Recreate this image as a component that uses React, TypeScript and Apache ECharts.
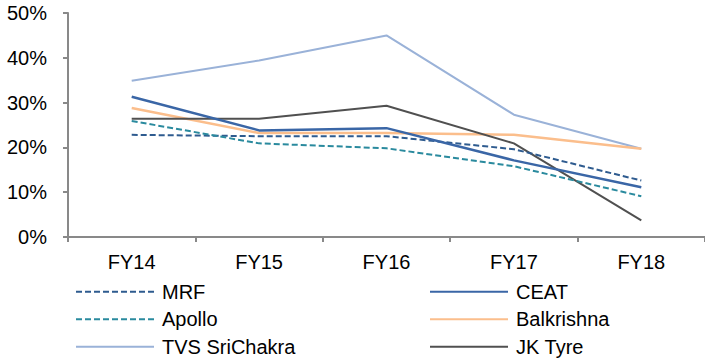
import React, { useEffect, useRef } from "react";
import * as echarts from "echarts";

const categories = ["FY14", "FY15", "FY16", "FY17", "FY18"];
const mrf = [22.8, 22.5, 22.5, 19.6, 12.6];
const ceat = [31.3, 23.8, 24.3, 17.1, 11.1];
const apollo = [25.9, 20.9, 19.8, 15.8, 9.1];
const balkrishna = [28.8, 23.2, 23.2, 22.8, 19.7];
const tvs = [34.9, 39.4, 45.0, 27.3, 19.7];
const jkTyre = [26.4, 26.4, 29.3, 20.9, 3.7];
const yTicks = [0, 10, 20, 30, 40, 50];

const FONT = "'Liberation Sans', Arial, sans-serif";

export default function App() {
  const ref = useRef<HTMLDivElement>(null);
  useEffect(() => {
    if (!ref.current) return;
    const chart = echarts.init(ref.current, undefined, { renderer: "svg" });
    const mk = (name: string, data: number[], color: string, dashed: boolean, width = 2) => ({
      name,
      type: "line",
      data,
      symbol: "none",
      showSymbol: false,
      lineStyle: { color, width, type: dashed ? [6, 3] : "solid" },
      itemStyle: { color },
    });
    const legendCommon = {
      orient: "vertical",
      top: 281.7,
      height: 80,
      padding: 0,
      itemWidth: 78,
      itemHeight: 14,
      itemGap: 7.5,
      itemStyle: { opacity: 0 },
      textStyle: { fontFamily: FONT, fontSize: 20, color: "#000", lineHeight: 20, padding: [0, 0, 0, 3] },
    };
    chart.setOption({
      animation: false,
      grid: { left: 68, top: 13, right: -4, bottom: 124, containLabel: false },
      legend: [
        { ...legendCommon, left: 75, data: ["MRF", "Apollo", "TVS SriChakra"] },
        { ...legendCommon, left: 429, data: ["CEAT", "Balkrishna", "JK Tyre"] },
      ],
      xAxis: {
        type: "category",
        data: categories,
        boundaryGap: true,
        axisLine: { lineStyle: { color: "#898989", width: 2 } },
        axisTick: { show: true, length: 5, lineStyle: { color: "#898989", width: 2 } },
        axisLabel: { fontFamily: FONT, fontSize: 20, color: "#000", margin: 15 },
      },
      yAxis: {
        type: "value",
        min: yTicks[0],
        max: yTicks[yTicks.length - 1],
        interval: 10,
        splitLine: { show: false },
        axisLine: { show: true, lineStyle: { color: "#898989", width: 2 } },
        axisTick: { show: true, length: 5, lineStyle: { color: "#898989", width: 2 } },
        axisLabel: { fontFamily: FONT, fontSize: 20, color: "#000", margin: 21, formatter: "{value}%" },
      },
      series: [
        mk("TVS SriChakra", tvs, "#9AB2D8", false, 2),
        mk("Balkrishna", balkrishna, "#FBBE8C", false, 2.5),
        mk("JK Tyre", jkTyre, "#505050", false, 2),
        mk("MRF", mrf, "#2E5B8F", true, 2),
        mk("Apollo", apollo, "#2A8A9E", true, 2),
        mk("CEAT", ceat, "#3A66A6", false, 2.5),
      ],
    });
    return () => chart.dispose();
  }, []);
  return <div ref={ref} style={{ width: 705, height: 361, position: "absolute", left: 0, top: 0 }} />;
}
